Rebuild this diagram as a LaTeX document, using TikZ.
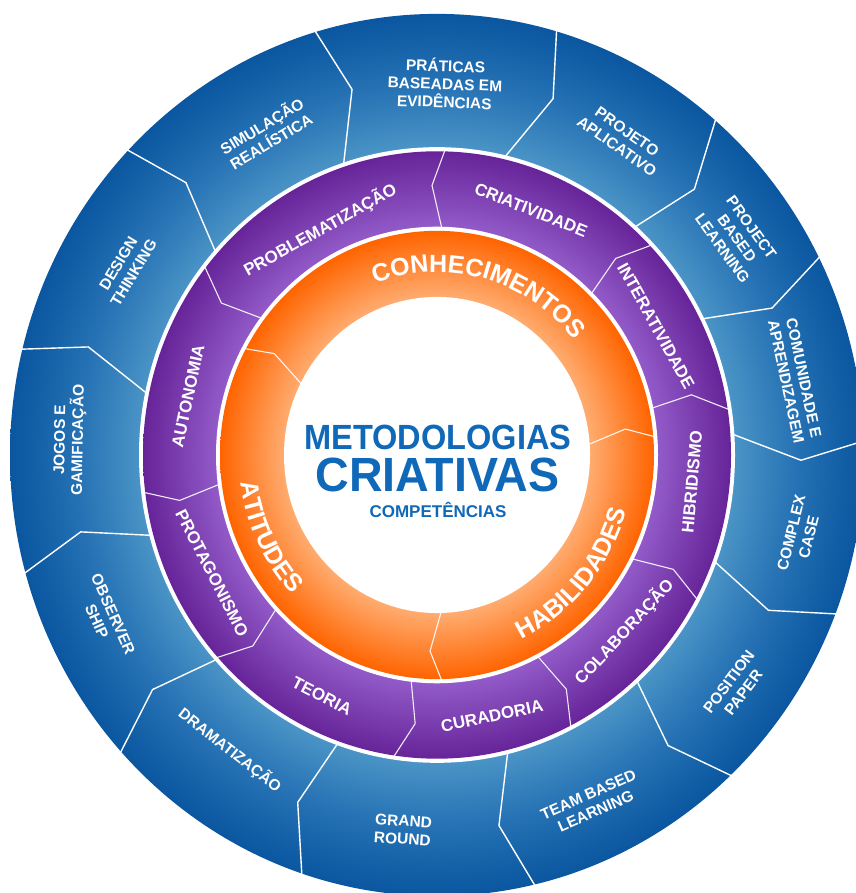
\documentclass[tikz,border=0pt]{standalone}
\usepackage{fontspec}
\setmainfont{Liberation Sans}
\usetikzlibrary{decorations.text}
\definecolor{blueDark}{RGB}{10,86,160}
\definecolor{blueMid}{RGB}{38,114,180}
\definecolor{blueLight}{RGB}{74,148,198}
\definecolor{purpleDark}{RGB}{102,36,152}
\definecolor{purpleLight}{RGB}{146,90,200}
\definecolor{orangeDark}{RGB}{255,100,0}
\definecolor{orangeLight}{RGB}{255,172,112}
\definecolor{titleBlue}{RGB}{16,104,184}
\pgfdeclareradialshading{bluering}{\pgfpoint{0bp}{0bp}}{color(0bp)=(blueLight); color(17.4bp)=(blueLight); color(21bp)=(blueMid); color(25bp)=(blueDark); color(50bp)=(blueDark)}
\pgfdeclareradialshading{purplering}{\pgfpoint{0bp}{0bp}}{color(0bp)=(purpleLight); color(18.8bp)=(purpleLight); color(25bp)=(purpleDark); color(50bp)=(purpleDark)}
\pgfdeclareradialshading{orangering}{\pgfpoint{0bp}{0bp}}{color(0bp)=(orangeLight); color(17.6bp)=(orangeLight); color(25bp)=(orangeDark); color(50bp)=(orangeDark)}
\newcommand{\bluefont}{\fontsize{15.5}{18}\selectfont\bfseries}
\newcommand{\purpfont}{\fontsize{17}{20}\selectfont\bfseries}
\newcommand{\orfont}{\fontsize{25}{30}\selectfont\bfseries}
\begin{document}
\begin{tikzpicture}[x=1pt,y=1pt,
  bsep/.style={white, line width=1.4pt},
  psep/.style={white, line width=1.1pt, opacity=0.9},
  bluelab/.style={text=white, font=\bluefont, align=center, inner sep=0pt},
  purplab/.style={text=white, font=\purpfont, inner sep=0pt},
  titlelab/.style={text=titleBlue, inner sep=0pt, anchor=base},
  ortext/.style={decorate, decoration={text along path, text={|\orfont|#1}, text align=center, text color=white}}
  ]
\useasboundingbox (0,0) rectangle (855,893);
\begin{scope}[shift={(437,438)}, yscale=1.033]
  \shade[shading=bluering] (0,0) circle[radius=427];
  \fill[white] (0,0) circle[radius=298];
  \shade[shading=purplering] (0,0) circle[radius=294];
  \fill[white] (0,0) circle[radius=221];
  \shade[shading=orangering] (0,0) circle[radius=217];
  \fill[white] (0,0) circle[radius=153];
  % blue separators
  \foreach \a/\b/\c in {108.5/103.5/106.7, 76.9/71.4/73.9, 48.2/45.0/49.6, 26.5/23.0/26.8,
      4.0/-0.8/2.0, -20.3/-24.4/-20.9, -47.5/-50.6/-46.3, -76.1/-80.2/-76.6,
      -109.5/-112.5/-108.2, -138/-141.4/-137.5, -164.7/-168.2/-164.3, 168.5/163.3/166.3, 138.5/133.6/136.5}
    \draw[bsep] (\a:295) -- (\b:364) -- (\c:432);
  % purple separators
  \foreach \a/\b/\c in {88.7/91.1/88.4, 45.3/46.8/43.4, 11.9/12.9/8.5, -27.3/-25.1/-28.3,
      -62.7/-60.3/-63.1, -96.8/-94.8/-98.5, -137.2/-134.9/-138.4, 187.4/189.7/187, 142.9/145.7/141.8}
    \draw[psep] (\a:219) -- (\b:261) -- (\c:296);
  % orange separators
  \foreach \a/\b/\c in {3.6/7.6/4.6, -88.2/-92.1/-88.7, 153.4/148.9/151.9}
    \draw[psep] (\a:150) -- (\b:190) -- (\c:219);
\end{scope}
% curved orange labels
\begin{scope}[shift={(437,438)}]
  \path[ortext=CONHECIMENTOS] (145:177 and 182.8) arc[start angle=145, end angle=5, x radius=177, y radius=182.8];
  \path[ortext=HABILIDADES] (-111:197 and 203.5) arc[start angle=-111, end angle=29, x radius=197, y radius=203.5];
  \path[ortext=ATITUDES] (136:198 and 204.5) arc[start angle=136, end angle=276, x radius=198, y radius=204.5];
\end{scope}
\begin{scope}[shift={(0,893)}]
  % centre title
  \node[titlelab, font=\fontsize{35}{40}\selectfont\bfseries, xscale=0.93] (t1) at (438,-450) {METODOLOGIAS};
  \node[titlelab, font=\fontsize{48}{52}\selectfont\bfseries, xscale=0.97] (t2) at (437.5,-491.5) {CRIATIVAS};
  \node[titlelab, font=\fontsize{17}{20}\selectfont\bfseries] (t3) at (438,-518) {COMPETÊNCIAS};
  % purple ring labels
  \node[purplab, rotate=29]  (p1) at (320,-230) {PROBLEMATIZAÇÃO};
  \node[purplab, rotate=-22] (p2) at (531,-210) {CRIATIVIDADE};
  \node[purplab, rotate=-61] (p3) at (656,-326) {INTERATIVIDADE};
  \node[purplab, rotate=85]  (p4) at (692,-482) {HIBRIDISMO};
  \node[purplab, rotate=47]  (p5) at (624,-632) {COLABORAÇÃO};
  \node[purplab, rotate=12]  (p6) at (492,-716) {CURADORIA};
  \node[purplab, rotate=-27] (p7) at (322,-696) {TEORIA};
  \node[purplab, rotate=-63] (p8) at (212,-573) {PROTAGONISMO};
  \node[purplab, rotate=78]  (p9) at (188,-396) {AUTONOMIA};
  % blue ring labels
  \node[bluelab, rotate=-2]  (b1)  at (445,-83)  {PRÁTICAS\\BASEADAS EM\\EVIDÊNCIAS};
  \node[bluelab, rotate=-35] (b2)  at (622,-139) {PROJETO\\APLICATIVO};
  \node[bluelab, rotate=-54] (b3)  at (737,-238) {PROJECT\\BASED\\LEARNING};
  \node[bluelab, rotate=-78] (b4)  at (795,-380) {COMUNIDADE E\\APRENDIZAGEM};
  \node[bluelab, rotate=76]  (b5)  at (800,-535) {COMPLEX\\CASE};
  \node[bluelab, rotate=53]  (b6)  at (736,-687) {POSITION\\PAPER};
  \node[bluelab, rotate=24]  (b7)  at (592,-803) {TEAM BASED\\LEARNING};
  \node[bluelab, rotate=-4]  (b8)  at (403,-830) {GRAND\\ROUND};
  \node[bluelab, rotate=-38] (b9)  at (230,-750) {DRAMATIZAÇÃO};
  \node[bluelab, rotate=-66] (b10) at (105,-618) {OBSERVER\\SHIP};
  \node[bluelab, rotate=89]  (b11) at (70,-440)  {JOGOS E\\GAMIFICAÇÃO};
  \node[bluelab, rotate=59]  (b12) at (126,-268) {DESIGN\\THINKING};
  \node[bluelab, rotate=31]  (b13) at (266,-133) {SIMULAÇÃO\\REALÍSTICA};
\end{scope}
\end{tikzpicture}
\end{document}
